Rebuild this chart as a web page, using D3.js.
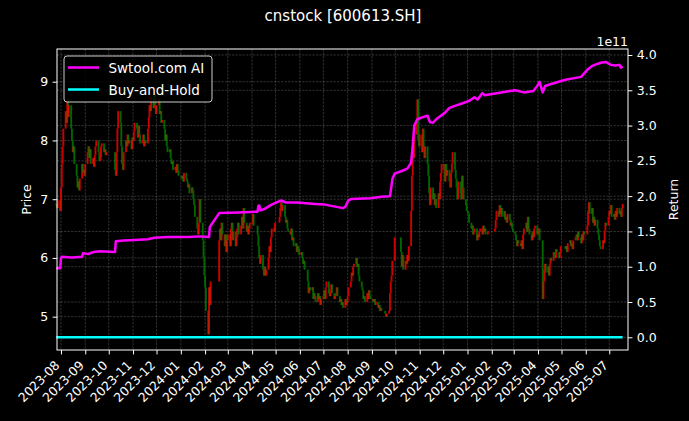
<!DOCTYPE html>
<html>
<head>
<meta charset="utf-8">
<script src="https://cdn.jsdelivr.net/npm/d3@7"></script>
<style>
  html, body { margin: 0; padding: 0; background: #000; }
  svg { display: block; font-family: "DejaVu Sans", sans-serif; }
</style>
</head>
<body>
<script>
const WIDTH = 689;
const HEIGHT = 421;
const PLOT = { left: 57, right: 628, top: 49, bottom: 350 };
const TICK_LEN = 4.4;
const FONT = 12.5;
const RETURN_UNIT = 1e11;

const title = "cnstock [600613.SH]";
const seriesNames = ["Swtool.com AI", "Buy-and-Hold"];
const priceTicks = [5, 6, 7, 8, 9];
const returnTicks = [0, 0.5, 1, 1.5, 2, 2.5, 3, 3.5, 4];

// exchange closures that fall on weekdays
const holidays = [
  "2023-09-29", "2023-10-02", "2023-10-03", "2023-10-04", "2023-10-05", "2023-10-06",
  "2024-01-01", "2024-02-09", "2024-02-12", "2024-02-13", "2024-02-14", "2024-02-15",
  "2024-02-16", "2024-04-04", "2024-04-05", "2024-05-01", "2024-05-02", "2024-05-03",
  "2024-06-10", "2024-09-16", "2024-09-17", "2024-10-01", "2024-10-02", "2024-10-03",
  "2024-10-04", "2024-10-07", "2025-01-01", "2025-01-28", "2025-01-29", "2025-01-30",
  "2025-01-31", "2025-02-03", "2025-02-04", "2025-04-04", "2025-05-01", "2025-05-02",
  "2025-05-05", "2025-06-02"
];

// daily closes, one line per month
const close2023 = [
  6.92, 6.85, 6.98, 6.80,
  7.2, 7.6, 7.9, 8.2, 8.5, 8.3, 8.7, 8.4, 8.6, 8.2, 8.0, 7.8, 7.9, 7.6, 7.4, 7.2, 7.3, 7.15, 7.35, 7.6, 7.45, 7.5, 7.4,
  7.6, 7.8, 7.9, 7.7, 7.85, 7.6, 7.7, 7.55, 7.75, 7.9, 8.0, 7.8, 7.65, 7.7, 7.9, 7.95, 7.8, 7.85, 7.75, 7.8,
  7.5, 7.4, 7.8, 8.2, 8.5, 8.3, 7.9, 7.6, 7.5, 7.8, 8.0, 7.9, 8.1, 7.95, 8.0, 7.85, 8.05,
  8.0, 8.15, 8.3, 8.2, 8.05, 8.25, 8.1, 7.95, 8.0, 8.1, 7.9, 8.0, 7.95, 8.2, 8.4, 8.6, 8.5, 8.75, 8.55, 8.8, 8.6, 8.45,
  8.6, 8.7, 8.45, 8.5, 8.3, 8.35, 8.2, 8.0, 8.1, 7.9, 7.8, 7.85, 7.7, 7.6, 7.65, 7.5, 7.55, 7.45, 7.6, 7.5, 7.4
];
const close2024 = [
  7.35, 7.4, 7.3, 7.45, 7.35, 7.3, 7.2, 7.25, 7.1, 7.2, 7.15, 7.0, 6.9, 6.7, 6.5, 6.4, 6.6, 7.0, 6.6, 6.3, 6.0, 5.7,
  5.5, 5.1, 4.7, 5.5, 5.2, 5.6, 6.3, 6.5, 6.3, 6.6, 6.4, 6.2, 6.4, 6.1, 6.3,
  6.4, 6.2, 6.5, 6.6, 6.3, 6.45, 6.2, 6.35, 6.5, 6.6, 6.4, 6.55, 6.7, 6.5, 6.85, 6.6, 6.45, 6.55, 6.4, 6.5, 6.6,
  6.6, 6.75, 6.55, 6.4, 6.2, 6.0, 5.9, 6.05, 5.8, 5.7, 5.85, 5.7, 5.8, 6.0, 6.2, 6.1, 6.35, 6.5, 6.45, 6.6,
  6.7, 6.85, 6.95, 6.8, 6.9, 6.7, 6.6, 6.65, 6.5, 6.45, 6.4, 6.5, 6.3, 6.35, 6.2, 6.25, 6.1, 6.2, 6.15, 6.05,
  6.1, 6.0, 5.9, 5.95, 5.8, 5.6, 5.4, 5.5, 5.45, 5.5, 5.3, 5.4, 5.35, 5.25, 5.4, 5.3, 5.35, 5.2, 5.3,
  5.35, 5.45, 5.3, 5.5, 5.6, 5.4, 5.35, 5.45, 5.55, 5.4, 5.3, 5.35, 5.4, 5.5, 5.35, 5.25, 5.3, 5.2, 5.25, 5.15, 5.3, 5.2, 5.25,
  5.35, 5.5, 5.6, 5.75, 5.7, 5.85, 5.9, 6.0, 5.85, 5.9, 5.7, 5.6, 5.5, 5.45, 5.3, 5.35, 5.25, 5.4, 5.3, 5.45, 5.35, 5.3,
  5.3, 5.25, 5.3, 5.2, 5.25, 5.15, 5.2, 5.1, 5.15, 5.1, 5.05, 5.0, 5.05, 5.1, 5.4, 5.6, 5.7, 5.95, 6.35,
  6.1, 5.85, 6.05, 5.8, 5.95, 5.9, 6.05, 5.95, 6.2, 6.8, 7.4, 7.9, 7.7, 8.1, 8.3, 8.7, 8.0, 7.9,
  8.1, 7.8, 8.2, 7.9, 7.7, 7.9, 7.6, 7.4, 7.1, 6.9, 7.2, 7.0, 7.1, 6.9, 7.0, 6.85, 7.1, 7.0, 7.3, 7.45, 7.6,
  7.5, 7.3, 7.6, 7.4, 7.5, 7.3, 7.2, 7.45, 7.6, 7.8, 7.5, 7.35, 7.2, 7.0, 7.3, 7.1, 7.0, 7.4, 7.2, 7.0, 6.9, 6.8
];
const close2025 = [
  6.75, 6.6, 6.5, 6.55, 6.4, 6.45, 6.5, 6.3, 6.4, 6.35, 6.45, 6.5, 6.4, 6.55, 6.45, 6.5, 6.4, 6.45,
  6.5, 6.65, 6.8, 6.7, 6.9, 6.75, 6.85, 6.7, 6.8, 6.65, 6.7, 6.6, 6.75, 6.65, 6.55, 6.6, 6.5, 6.45,
  6.4, 6.3, 6.2, 6.3, 6.25, 6.2, 6.3, 6.15, 6.4, 6.5, 6.6, 6.45, 6.7, 6.5, 6.4, 6.3, 6.45, 6.35, 6.5, 6.55, 6.4,
  6.45, 6.5, 6.3, 5.3, 5.6, 5.8, 5.9, 5.75, 5.85, 5.7, 5.9, 6.0, 5.95, 6.1, 6.05, 6.0, 6.15, 6.1, 6.0, 6.1, 6.2,
  6.15, 6.2, 6.1, 6.25, 6.3, 6.2, 6.25, 6.15, 6.3, 6.35, 6.4, 6.3, 6.45, 6.35, 6.25, 6.4, 6.3, 6.45, 6.4,
  6.55, 6.8, 6.95, 6.75, 6.85, 6.6, 6.7, 6.55, 6.65, 6.5, 6.4, 6.3, 6.2, 6.15, 6.3, 6.25, 6.45, 6.6, 6.55, 6.7,
  6.8, 6.75, 6.9, 6.7, 6.75, 6.65, 6.8, 6.7, 6.85, 6.75, 6.8, 6.7, 6.85, 6.92
];

// strategy return, in units of 1e11
const aiCurve = [
  ["2023-07-26", 0.98], ["2023-07-31", 0.98], ["2023-08-01", 1.12], ["2023-08-02", 1.14],
  ["2023-08-15", 1.13], ["2023-08-28", 1.14], ["2023-08-29", 1.19], ["2023-09-05", 1.18],
  ["2023-09-12", 1.21], ["2023-09-20", 1.22], ["2023-10-09", 1.21], ["2023-10-10", 1.36],
  ["2023-10-20", 1.37], ["2023-11-03", 1.38], ["2023-11-20", 1.39], ["2023-11-28", 1.41],
  ["2023-12-15", 1.42], ["2024-01-10", 1.42], ["2024-01-25", 1.43], ["2024-02-06", 1.42],
  ["2024-02-07", 1.56], ["2024-02-08", 1.58], ["2024-02-19", 1.76], ["2024-03-15", 1.77],
  ["2024-04-08", 1.78], ["2024-04-09", 1.86], ["2024-04-10", 1.87], ["2024-04-12", 1.80],
  ["2024-04-17", 1.82], ["2024-04-26", 1.88], ["2024-05-08", 1.94], ["2024-05-14", 1.91],
  ["2024-05-29", 1.91], ["2024-06-20", 1.89], ["2024-07-03", 1.88], ["2024-07-26", 1.83],
  ["2024-07-29", 1.85], ["2024-08-02", 1.94], ["2024-08-06", 1.96], ["2024-08-30", 1.97],
  ["2024-09-13", 1.99], ["2024-09-24", 2.00], ["2024-09-26", 2.15], ["2024-09-27", 2.24],
  ["2024-09-30", 2.32], ["2024-10-10", 2.36], ["2024-10-16", 2.39], ["2024-10-18", 2.42],
  ["2024-10-21", 2.48], ["2024-10-23", 2.70], ["2024-10-24", 2.85], ["2024-10-25", 3.00],
  ["2024-10-29", 3.09], ["2024-11-05", 3.12], ["2024-11-11", 3.14], ["2024-11-14", 3.05],
  ["2024-11-18", 3.04], ["2024-11-22", 3.09], ["2024-12-03", 3.18], ["2024-12-09", 3.25],
  ["2024-12-16", 3.28], ["2024-12-24", 3.31], ["2025-01-03", 3.35], ["2025-01-10", 3.40],
  ["2025-01-14", 3.37], ["2025-01-20", 3.46], ["2025-01-23", 3.43], ["2025-02-13", 3.47],
  ["2025-03-03", 3.50], ["2025-03-14", 3.47], ["2025-03-26", 3.49], ["2025-03-31", 3.56],
  ["2025-04-03", 3.62], ["2025-04-07", 3.47], ["2025-04-10", 3.56], ["2025-04-21", 3.60],
  ["2025-05-06", 3.65], ["2025-05-26", 3.69], ["2025-06-03", 3.79], ["2025-06-10", 3.85],
  ["2025-06-20", 3.89], ["2025-06-27", 3.90], ["2025-07-03", 3.86], ["2025-07-09", 3.85],
  ["2025-07-14", 3.86], ["2025-07-16", 3.82], ["2025-07-18", 3.84]
];

const parse = d3.utcParse("%Y-%m-%d");
const fmtDay = d3.utcFormat("%Y-%m-%d");
const closed = new Set(holidays);

const tradingDays = d3
  .utcDays(parse("2023-07-26"), parse("2025-07-19"))
  .filter((d) => d.getUTCDay() % 6 !== 0 && !closed.has(fmtDay(d)));

const closesByYear = { 2023: close2023, 2024: close2024, 2025: close2025 };
const candles = [];
for (const year of [2023, 2024, 2025]) {
  const days = tradingDays.filter((d) => d.getUTCFullYear() === year);
  const values = closesByYear[year];
  if (days.length !== values.length) {
    console.warn(`year ${year}: ${days.length} days, ${values.length} closes`);
  }
  days.forEach((date, i) => {
    if (i < values.length) candles.push({ date, close: values[i] });
  });
}
candles.forEach((c, i) => {
  c.open = i ? candles[i - 1].close : c.close;
});

const firstClose = candles[0].close;
const buyHold = candles.map((c) => ({ date: c.date, value: c.close / firstClose - 1 }));
const aiReturn = aiCurve.map(([d, v]) => ({ date: parse(d), value: v * RETURN_UNIT }));

const svg = d3
  .select("body")
  .append("svg")
  .attr("width", WIDTH)
  .attr("height", HEIGHT)
  .style("background", "#000");

const x = d3
  .scaleUtc()
  .domain([new Date(Date.UTC(2023, 6, 26, 22)), new Date(Date.UTC(2025, 6, 24, 22))])
  .range([PLOT.left, PLOT.right]);
const yPrice = d3.scaleLinear().domain([4.433, 9.557]).range([PLOT.bottom, PLOT.top]);
const yReturn = d3
  .scaleLinear()
  .domain([-0.18 * RETURN_UNIT, 4.085 * RETURN_UNIT])
  .range([PLOT.bottom, PLOT.top]);

const monthTicks = d3.utcMonths(parse("2023-08-01"), parse("2025-07-02"));

// grid
const grid = svg.append("g").attr("stroke", "#fff").attr("stroke-opacity", 0.32)
  .attr("stroke-width", 0.6).attr("stroke-dasharray", "2.3,1.2");
grid.selectAll(".gx").data(monthTicks).join("line")
  .attr("x1", (d) => x(d)).attr("x2", (d) => x(d))
  .attr("y1", PLOT.top).attr("y2", PLOT.bottom);
grid.selectAll(".gl").data(priceTicks).join("line")
  .attr("x1", PLOT.left).attr("x2", PLOT.right)
  .attr("y1", (d) => yPrice(d)).attr("y2", (d) => yPrice(d));
grid.selectAll(".gr").data(returnTicks).join("line")
  .attr("x1", PLOT.left).attr("x2", PLOT.right)
  .attr("y1", (d) => yReturn(d * RETURN_UNIT)).attr("y2", (d) => yReturn(d * RETURN_UNIT));

// candles
const CANDLE_W = 1.9;
svg.append("g").selectAll("rect").data(candles).join("rect")
  .attr("x", (d) => x(d.date) - CANDLE_W / 2)
  .attr("width", CANDLE_W)
  .attr("y", (d) => yPrice(Math.max(d.open, d.close)))
  .attr("height", (d) => Math.max(1.5, Math.abs(yPrice(d.open) - yPrice(d.close))))
  .attr("fill", (d) => (d.close >= d.open ? "#ff0000" : "#008000"))
  .attr("fill-opacity", 0.8);

// return lines
const returnLine = d3.line().x((d) => x(d.date)).y((d) => yReturn(d.value));
svg.append("path").datum(aiReturn)
  .attr("d", returnLine).attr("fill", "none")
  .attr("stroke", "#ff00ff").attr("stroke-width", 2.5).attr("stroke-linejoin", "round");
svg.append("path").datum(buyHold)
  .attr("d", returnLine).attr("fill", "none")
  .attr("stroke", "#00ffff").attr("stroke-width", 2.5);

// frame
svg.append("rect")
  .attr("x", PLOT.left).attr("y", PLOT.top)
  .attr("width", PLOT.right - PLOT.left).attr("height", PLOT.bottom - PLOT.top)
  .attr("fill", "none").attr("stroke", "#fff").attr("stroke-width", 1);

const styleAxis = (g) => {
  g.select(".domain").remove();
  g.selectAll(".tick line").attr("stroke", "#fff").attr("stroke-width", 1);
  g.selectAll(".tick text").attr("fill", "#fff").style("font-size", `${FONT}px`)
    .style("font-family", '"DejaVu Sans", sans-serif');
};

// x axis
svg.append("g")
  .attr("transform", `translate(0,${PLOT.bottom})`)
  .call(d3.axisBottom(x).tickValues(monthTicks).tickFormat(d3.utcFormat("%Y-%m")).tickSize(TICK_LEN))
  .call(styleAxis)
  .call((g) => g.selectAll(".tick text")
    .attr("x", 0).attr("y", 0).attr("dy", null)
    .attr("text-anchor", "end")
    .attr("transform", "translate(-1,16) rotate(-45)"));

// left axis
svg.append("g")
  .attr("transform", `translate(${PLOT.left},0)`)
  .call(d3.axisLeft(yPrice).tickValues(priceTicks).tickFormat(d3.format("d"))
    .tickSize(TICK_LEN).tickPadding(4.4))
  .call(styleAxis);

// right axis
svg.append("g")
  .attr("transform", `translate(${PLOT.right},0)`)
  .call(d3.axisRight(yReturn).tickValues(returnTicks.map((v) => v * RETURN_UNIT))
    .tickFormat((v) => (v / RETURN_UNIT).toFixed(1)).tickSize(TICK_LEN).tickPadding(4.4))
  .call(styleAxis);

const label = (text, tx, ty, size, rotate, anchor) =>
  svg.append("text")
    .attr("transform", `translate(${tx},${ty})` + (rotate ? ` rotate(${rotate})` : ""))
    .attr("text-anchor", anchor || "middle")
    .attr("fill", "#fff")
    .style("font-size", `${size}px`)
    .text(text);

label(title, 343, 21, 15);
label("Price", 30.5, (PLOT.top + PLOT.bottom) / 2, FONT, -90);
label("Return", 678, (PLOT.top + PLOT.bottom) / 2, FONT, -90);
label("1e11", PLOT.right, 46, FONT, 0, "end");

// legend
const legend = svg.append("g").attr("transform", `translate(${PLOT.left + 7},${PLOT.top + 7})`);
legend.append("rect")
  .attr("width", 148).attr("height", 46).attr("rx", 3)
  .attr("fill", "#000").attr("fill-opacity", 0.8)
  .attr("stroke", "#ccc").attr("stroke-width", 1);
const legendColors = ["#ff00ff", "#00ffff"];
seriesNames.forEach((name, i) => {
  const ly = 11.5 + i * 22;
  legend.append("line")
    .attr("x1", 4).attr("x2", 35).attr("y1", ly).attr("y2", ly)
    .attr("stroke", legendColors[i]).attr("stroke-width", 2.5);
  legend.append("text")
    .attr("x", 44.5).attr("y", ly + 5)
    .attr("fill", "#fff").style("font-size", "13.5px")
    .text(name);
});
</script>
</body>
</html>
